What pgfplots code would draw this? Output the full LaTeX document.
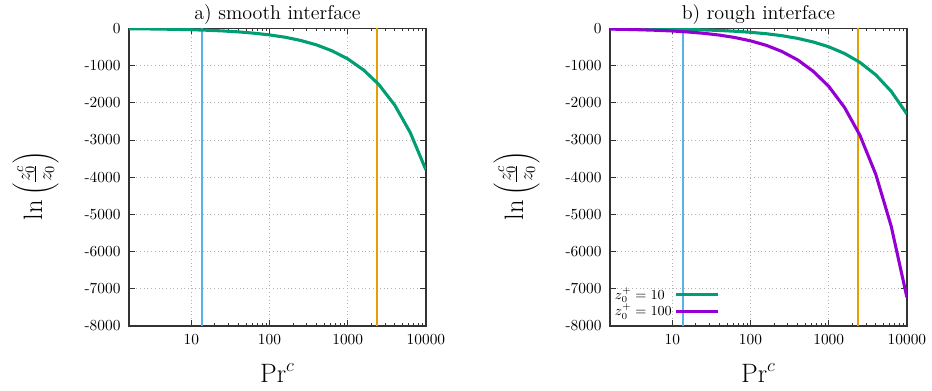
\documentclass[border=0pt]{standalone}
\usepackage{pgfplots}
\pgfplotsset{compat=1.18}
\definecolor{cgreen}{HTML}{009E73}
\definecolor{cpurple}{HTML}{9400D3}
\definecolor{cblue}{HTML}{56B4E9}
\definecolor{corange}{HTML}{E69F00}
\begin{document}
\begin{tikzpicture}
\begin{semilogxaxis}[
    at={(0,0)}, anchor=south west, title={a) smooth interface},
    scale only axis,
    width=193pt, height=193.5pt,
    xmin=1.6, xmax=10000,
    ymin=-8000, ymax=0,
    xtick={10,100,1000,10000},
    xticklabels={10,100,1000,10000},
    ytick={-8000,-7000,-6000,-5000,-4000,-3000,-2000,-1000,0},
    yticklabels={-8000,-7000,-6000,-5000,-4000,-3000,-2000,-1000,0},
    axis line style={black!80, line width=0.8pt},
    major tick length=4pt, minor tick length=2pt,
    tick style={black!80, line width=0.5pt},
    tick align=inside,
    xmajorgrids, ymajorgrids,
    major grid style={gray!60, dotted, line width=0.5pt},
    title style={font=\fontsize{13}{15}\selectfont, at={(axis description cs:0.5,1)}, anchor=base},
    xlabel={$\mathrm{Pr}^c$},
    xlabel style={font=\fontsize{18}{20}\selectfont, at={(axis description cs:0.5,0)}, anchor=center, yshift=-30.5pt},
    ylabel={$\ln\left(\frac{z_0^c}{z_0}\vrule height 18pt depth 9pt width 0pt\right)$},
    ylabel style={font=\fontsize{18}{20}\selectfont, at={(axis description cs:-0.315,0.47)}, anchor=center},
    xticklabel style={yshift=-2pt},
    yticklabel style={xshift=-2pt},
]
\addplot[cblue, line width=1.3pt, forget plot] coordinates {(13.8,-8000) (13.8,0)};
\addplot[corange, line width=1.3pt, forget plot] coordinates {(2400,-8000) (2400,0)};
\addplot[cgreen, line width=2pt] coordinates {
(1.6,-11) (2.5,-15) (4,-21) (6.3,-28) (10,-38) (16,-52) (25,-70) (40,-96) (63,-130) (100,-177)
(160,-241) (250,-326) (400,-446) (630,-605) (1000,-820) (1600,-1122) (2500,-1510) (4000,-2066) (6300,-2800) (10000,-3806)};
\end{semilogxaxis}
\begin{semilogxaxis}[
    at={(312.65pt,0)}, anchor=south west, title={b) rough interface},
    scale only axis,
    width=193pt, height=193.5pt,
    xmin=1.6, xmax=10000,
    ymin=-8000, ymax=0,
    xtick={10,100,1000,10000},
    xticklabels={10,100,1000,10000},
    ytick={-8000,-7000,-6000,-5000,-4000,-3000,-2000,-1000,0},
    yticklabels={-8000,-7000,-6000,-5000,-4000,-3000,-2000,-1000,0},
    axis line style={black!80, line width=0.8pt},
    major tick length=4pt, minor tick length=2pt,
    tick style={black!80, line width=0.5pt},
    tick align=inside,
    xmajorgrids, ymajorgrids,
    major grid style={gray!60, dotted, line width=0.5pt},
    title style={font=\fontsize{13}{15}\selectfont, at={(axis description cs:0.5,1)}, anchor=base},
    xlabel={$\mathrm{Pr}^c$},
    xlabel style={font=\fontsize{18}{20}\selectfont, at={(axis description cs:0.5,0)}, anchor=center, yshift=-30.5pt},
    ylabel={$\ln\left(\frac{z_0^c}{z_0}\vrule height 18pt depth 9pt width 0pt\right)$},
    ylabel style={font=\fontsize{18}{20}\selectfont, at={(axis description cs:-0.315,0.47)}, anchor=center},
    xticklabel style={yshift=-2pt},
    yticklabel style={xshift=-2pt},
    legend plot pos=right,
    legend cell align=left,
    legend style={draw=none, fill=none, font=\small, at={(axis description cs:0.0,0.0)}, anchor=south west, row sep=0pt, nodes={inner ysep=0.8pt, inner xsep=2pt}, yshift=2pt, xshift=-2pt},
    legend image code/.code={\draw[#1] (5pt,0pt) -- (32pt,0pt);},
]
\addplot[cblue, line width=1.3pt, forget plot] coordinates {(13.7,-8000) (13.7,0)};
\addplot[corange, line width=1.3pt, forget plot] coordinates {(2400,-8000) (2400,0)};
\addplot[cgreen, line width=2pt] coordinates {
(1.6,-7) (2.5,-9) (4,-13) (6.3,-17) (10,-23) (16,-31) (25,-42) (40,-58) (63,-79) (100,-107)
(160,-146) (250,-197) (400,-270) (630,-366) (1000,-496) (1600,-679) (2500,-914) (4000,-1250) (6300,-1694) (10000,-2303)};
\addlegendentry{$z_0^+ = 10$}
\addplot[cpurple, line width=2pt] coordinates {
(1.6,-21) (2.5,-29) (4,-40) (6.3,-53) (10,-72) (16,-99) (25,-133) (40,-182) (63,-247) (100,-336)
(160,-458) (250,-619) (400,-847) (630,-1150) (1000,-1558) (1600,-2132) (2500,-2869) (4000,-3925) (6300,-5320) (10000,-7231)};
\addlegendentry{$z_0^+ = 100$}
\end{semilogxaxis}
\pgfresetboundingbox
\path[use as bounding box] (-83.85pt,-42.25pt) rectangle (521.95pt,211.9pt);
\end{tikzpicture}
\end{document}
